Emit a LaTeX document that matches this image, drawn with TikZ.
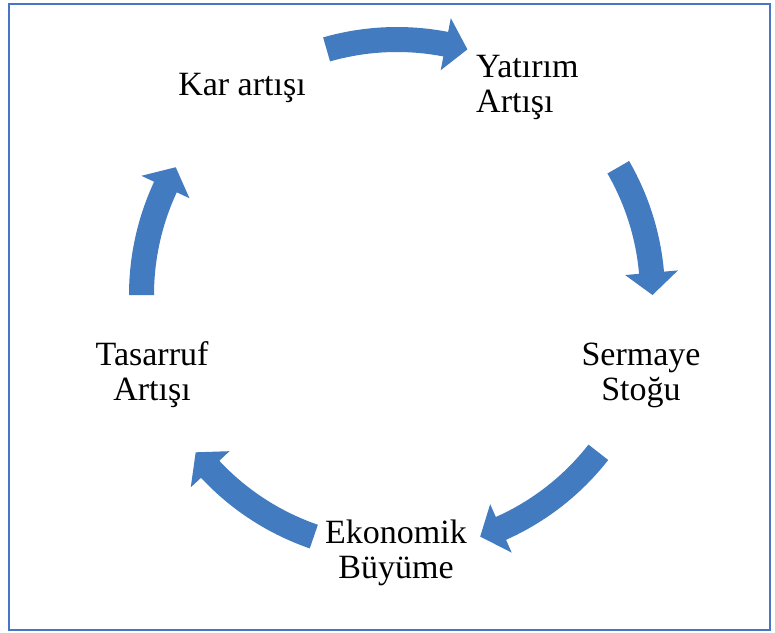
\documentclass[tikz,border=0pt]{standalone}
\usepackage{fontspec}
\setmainfont{Liberation Serif}
\definecolor{arrowblue}{RGB}{66,123,191}
\definecolor{frameblue}{RGB}{72,118,196}
% curved block arrow on the cycle circle: #1 = tail angle, #2 = tip angle (math degrees)
\newcommand{\cyclearrow}[2]{%
  \pgfmathsetmacro{\cyhb}{#2+5}%
  \fill[arrowblue] plot[domain=#1:\cyhb, samples=40] ({397+268*cos(\x)},{295-268*sin(\x)})
    -- ({397+282*cos(\cyhb)},{295-282*sin(\cyhb)})
    -- ({397+255.5*cos(#2)},{295-255.5*sin(#2)})
    -- ({397+229*cos(\cyhb)},{295-229*sin(\cyhb)})
    -- plot[domain=\cyhb:#1, samples=40] ({397+243*cos(\x)},{295-243*sin(\x)})
    -- cycle;}
\begin{document}
\begin{tikzpicture}[x=1pt,y=-1pt,
  lbl/.style={inner sep=0pt, anchor=base, font=\fontsize{34}{35}\selectfont}]
\useasboundingbox (0,0) rectangle (775,632);
\draw[frameblue, line width=2pt] (9,3.5) rectangle (770,630);
% arrows
\cyclearrow{106}{74}
\cyclearrow{30}{0}
\cyclearrow{-38}{-71}
\cyclearrow{-109}{-142}
\cyclearrow{180}{150}
% labels
\node[lbl] (kar) at (242,95) {Kar artışı};
\node[lbl, anchor=base west] (yatirim) at (476,77) {\begin{tabular}[t]{@{}l@{}}Yatırım\\Artışı\end{tabular}};
\node[lbl] (sermaye) at (641,365.5) {\begin{tabular}[t]{@{}c@{}}Sermaye\\Stoğu\end{tabular}};
\node[lbl] (ekonomik) at (396,543) {\begin{tabular}[t]{@{}c@{}}Ekonomik\\Büyüme\end{tabular}};
\node[lbl] (tasarruf) at (152,365.5) {\begin{tabular}[t]{@{}c@{}}Tasarruf\\Artışı\end{tabular}};
\end{tikzpicture}
\end{document}
